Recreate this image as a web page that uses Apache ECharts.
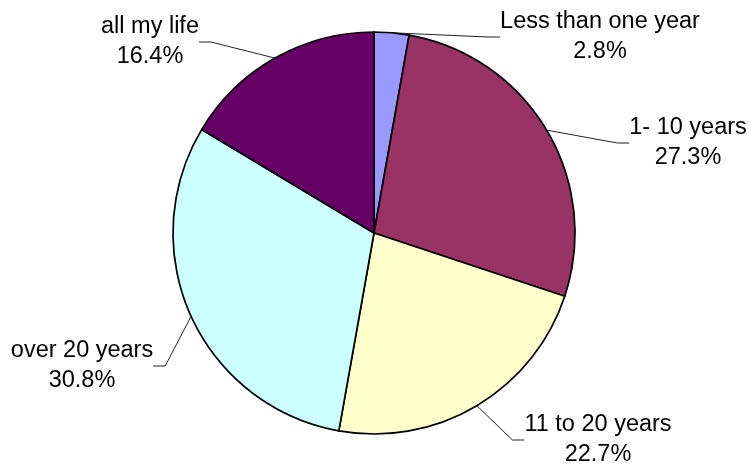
<!DOCTYPE html>
<html>
<head>
<meta charset="utf-8">
<script src="https://cdn.jsdelivr.net/npm/echarts@6/dist/echarts.min.js"></script>
<style>
  html, body { margin: 0; padding: 0; background: #fff; }
  #chart { width: 751px; height: 466px; }
</style>
</head>
<body>
<div id="chart"></div>
<script>
  // 数据
  var categories = ['Less than one year', '1- 10 years', '11 to 20 years', 'over 20 years', 'all my life'];
  var percents = [2.8, 27.3, 22.7, 30.8, 16.4];
  var sliceColors = ['#9999ff', '#993366', '#ffffcc', '#ccffff', '#660066'];

  // 标签位置 (块中心)
  var labelPos = [
    [600, 37],
    [688, 143],
    [598, 440],
    [82, 366],
    [150, 42]
  ];

  var myChart = echarts.init(document.getElementById('chart'));
  myChart.setOption({
    animation: false,
    series: [{
      type: 'pie',
      center: [374, 233],
      radius: 201,
      startAngle: 90,
      clockwise: true,
      avoidLabelOverlap: false,
      data: categories.map(function (name, i) {
        return { name: name, value: percents[i], itemStyle: { color: sliceColors[i] } };
      }),
      itemStyle: {
        borderColor: '#000',
        borderWidth: 1.7
      },
      label: {
        show: true,
        formatter: function (p) { return p.name + '\n' + p.value.toFixed(1) + '%'; },
        fontFamily: 'Liberation Sans, Arial, sans-serif',
        fontSize: 23.5,
        lineHeight: 30,
        color: '#000',
        align: 'center'
      },
      labelLine: {
        show: true,
        length: 20,
        length2: 12,
        lineStyle: { color: '#222', width: 1 }
      },
      labelLayout: function (params) {
        var p = labelPos[params.dataIndex];
        return { x: p[0], y: p[1], align: 'center', verticalAlign: 'middle' };
      },
      emphasis: { disabled: true }
    }]
  });

  window.addEventListener('resize', function () {
    myChart.resize();
  });
</script>
</body>
</html>
